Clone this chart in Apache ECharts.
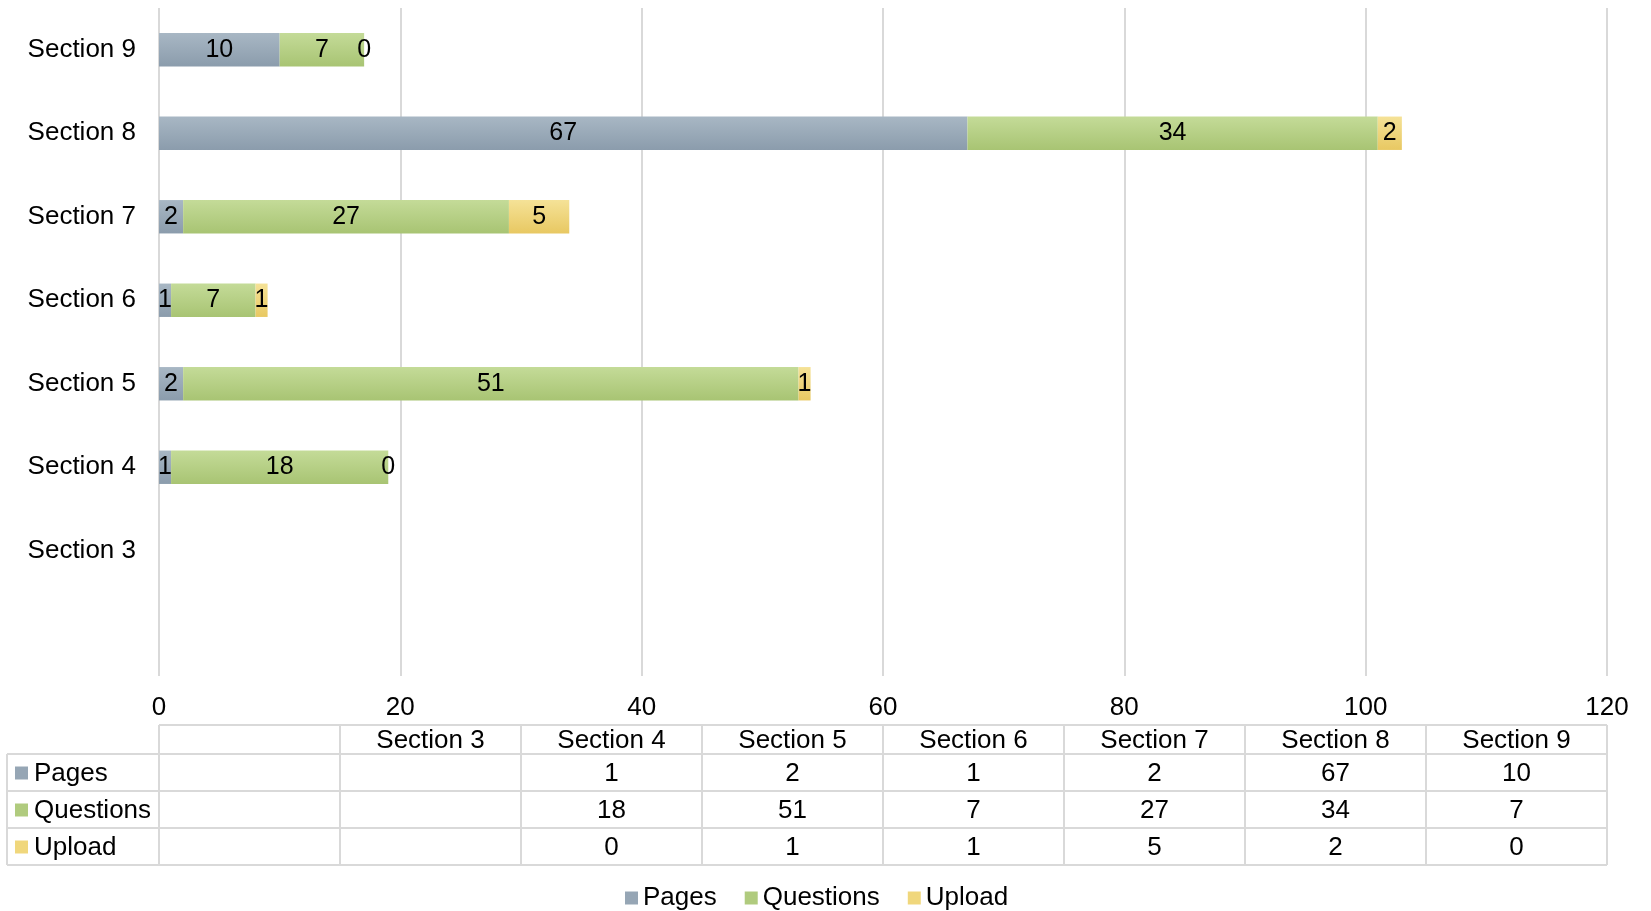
<!DOCTYPE html>
<html>
<head>
<meta charset="utf-8">
<script src="https://cdn.jsdelivr.net/npm/echarts@6/dist/echarts.min.js"></script>
<style>
html,body{margin:0;padding:0;background:#fff;}
#chart{width:1651px;height:911px;}
</style>
</head>
<body>
<div id="chart"></div>
<script>
// Categories bottom-to-top (first is the blank category)
const categories = ["", "Section 3", "Section 4", "Section 5", "Section 6", "Section 7", "Section 8", "Section 9"];
const seriesNames = ["Pages", "Questions", "Upload"];
const pages = [null, null, 1, 2, 1, 2, 67, 10];
const questions = [null, null, 18, 51, 7, 27, 34, 7];
const upload = [null, null, 0, 1, 1, 5, 2, 0];
const xTicks = [0, 20, 40, 60, 80, 100, 120];

const FONT = '"Liberation Sans", Arial, sans-serif';
const gradients = [
  ['#a8b7c4', '#8b9cac'],
  ['#c4db98', '#a8c473'],
  ['#f5e297', '#e8c862']
];
const legendColors = ['#96a6b5', '#b0cb7e', '#f0d77c'];
const seriesData = [pages, questions, upload];

const chart = echarts.init(document.getElementById('chart'), null, {renderer: 'canvas'});

const option = {
  backgroundColor: '#ffffff',
  animation: false,
  textStyle: {fontFamily: FONT},
  grid: {left: 159, right: 44, top: 8, height: 668, containLabel: false},
  legend: {
    top: 880,
    left: 620,
    itemWidth: 13,
    itemHeight: 13,
    itemGap: 28,
    icon: 'rect',
    textStyle: {fontSize: 26, color: '#000', fontFamily: FONT},
    data: seriesNames.map((n, i) => ({name: n, itemStyle: {color: legendColors[i]}}))
  },
  xAxis: {
    type: 'value',
    min: xTicks[0],
    max: xTicks[xTicks.length - 1],
    interval: xTicks[1] - xTicks[0],
    axisLine: {show: false},
    axisTick: {show: false},
    axisLabel: {fontSize: 26, color: '#000', margin: 19, fontFamily: FONT},
    splitLine: {show: true, lineStyle: {color: '#d9d9d9', width: 2}}
  },
  yAxis: {
    type: 'category',
    data: categories,
    axisLine: {show: false},
    axisTick: {show: false},
    axisLabel: {fontSize: 26, color: '#000', margin: 23, fontFamily: FONT},
    splitLine: {show: false}
  },
  series: seriesNames.map((name, i) => ({
    name: name,
    type: 'bar',
    stack: 'total',
    barCategoryGap: '60%',
    data: seriesData[i],
    itemStyle: {
      color: new echarts.graphic.LinearGradient(0, 0, 0, 1, [
        {offset: 0, color: gradients[i][0]},
        {offset: 1, color: gradients[i][1]}
      ])
    },
    label: {
      show: true,
      position: 'inside',
      color: '#000',
      fontSize: 25,
      fontFamily: FONT,
      overflow: 'none'
    },
    emphasis: {disabled: true}
  }))
};

chart.setOption(option);

// Data table below the plot, columns aligned to the plot width
function buildTable() {
  const x0 = chart.convertToPixel({xAxisIndex: 0}, xTicks[0]);
  const x1 = chart.convertToPixel({xAxisIndex: 0}, xTicks[xTicks.length - 1]);
  const n = categories.length;
  const colW = (x1 - x0) / n;
  const headerTop = 725, headerBot = 754, rowH = 37;
  const leftX = 7;
  const lineColor = '#d9d9d9';
  const els = [];
  const line = (xa, ya, xb, yb) => els.push({
    type: 'line', silent: true,
    shape: {x1: xa, y1: ya, x2: xb, y2: yb},
    style: {stroke: lineColor, lineWidth: 2}
  });
  const rowsBottom = headerBot + rowH * seriesNames.length;
  line(x0, headerTop, x1, headerTop);
  for (let r = 0; r <= seriesNames.length; r++) {
    line(leftX, headerBot + r * rowH, x1, headerBot + r * rowH);
  }
  line(leftX, headerBot, leftX, rowsBottom);
  for (let c = 0; c <= n; c++) {
    line(x0 + c * colW, headerTop, x0 + c * colW, rowsBottom);
  }
  categories.forEach((cat, c) => {
    if (!cat) return;
    els.push({
      type: 'text', silent: true,
      x: x0 + (c + 0.5) * colW, y: (headerTop + headerBot) / 2 + 1,
      style: {text: cat, fill: '#000', font: '26px ' + FONT, align: 'center', verticalAlign: 'middle'}
    });
  });
  seriesNames.forEach((name, r) => {
    const cy = headerBot + r * rowH + rowH / 2 + 1;
    els.push({
      type: 'rect', silent: true,
      shape: {x: 15, y: cy - 7, width: 13, height: 13},
      style: {fill: legendColors[r]}
    });
    els.push({
      type: 'text', silent: true,
      x: 34, y: cy,
      style: {text: name, fill: '#000', font: '26px ' + FONT, align: 'left', verticalAlign: 'middle'}
    });
    seriesData[r].forEach((v, c) => {
      if (v === null || v === undefined) return;
      els.push({
        type: 'text', silent: true,
        x: x0 + (c + 0.5) * colW, y: cy,
        style: {text: String(v), fill: '#000', font: '26px ' + FONT, align: 'center', verticalAlign: 'middle'}
      });
    });
  });
  chart.setOption({graphic: {elements: els}});
}
buildTable();
</script>
</body>
</html>
